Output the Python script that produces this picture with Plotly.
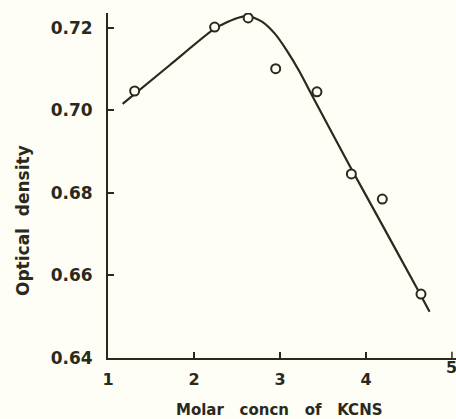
import plotly.graph_objects as go

# Measured points (open circles)
conc = [1.31, 2.24, 2.63, 2.95, 3.43, 3.83, 4.19, 4.64]
od = [0.7047, 0.7202, 0.7224, 0.7101, 0.7045, 0.6846, 0.6785, 0.6555]

# Hand-drawn smooth curve through the data
curve_x = [1.17, 1.72, 2.24, 2.48, 2.63, 2.79, 2.94, 3.08, 3.23, 3.35, 3.81, 4.13, 4.59, 4.74]
curve_y = [0.7016, 0.7110, 0.7198, 0.7222, 0.7229, 0.7215, 0.7186, 0.7145, 0.7093, 0.7045, 0.6866, 0.6745, 0.6570, 0.6512]

x_ticks = [1, 2, 3, 4, 5]
y_ticks = [0.64, 0.66, 0.68, 0.70, 0.72]

ink = "#2a2a1c"
bg = "#fefef6"
font_family = "DejaVu Sans"

fig = go.Figure()
fig.add_trace(go.Scatter(
    x=curve_x, y=curve_y, mode="lines",
    line=dict(color=ink, width=2.2, shape="spline", smoothing=0.6),
    showlegend=False, hoverinfo="skip"))
fig.add_trace(go.Scatter(
    x=conc, y=od, mode="markers",
    marker=dict(symbol="circle", size=9, color=bg, line=dict(color=ink, width=2)),
    showlegend=False))

fig.update_layout(
    width=456, height=419,
    margin=dict(l=108, r=0, t=13, b=61),
    paper_bgcolor=bg, plot_bgcolor=bg,
    font=dict(family=font_family, color=ink, size=16),
    xaxis=dict(
        range=[1, 5.047], tickvals=x_ticks[:-1], ticktext=[str(v) for v in x_ticks[:-1]],
        showgrid=False, zeroline=False, showline=True, linecolor=ink, linewidth=2,
        ticks="inside", ticklen=6, tickwidth=1.5, tickcolor=ink,
        ticklabelstandoff=6,
        tickfont=dict(family=font_family, size=16, color=ink, weight="bold"),
    ),
    yaxis=dict(
        range=[0.64, 0.7236], tickvals=y_ticks, ticktext=["%.2f" % v for v in y_ticks],
        showgrid=False, zeroline=False, showline=True, linecolor=ink, linewidth=2,
        ticks="inside", ticklen=6, tickwidth=1.5, tickcolor=ink,
        ticklabelstandoff=10,
        tickfont=dict(family=font_family, size=17, color=ink, weight="bold"),
    ),
)

# last x tick (5) sits at the right edge; draw its label and tick mark explicitly
fig.add_shape(type="line", xref="x", yref="paper", x0=x_ticks[-1], x1=x_ticks[-1],
              y0=0, y1=0.018, line=dict(color=ink, width=1.5))
fig.add_annotation(x=x_ticks[-1], xref="x", y=0, yref="paper", yshift=-21,
                   text=str(x_ticks[-1]), showarrow=False,
                   font=dict(family=font_family, size=16, color=ink, weight="bold"))

# axis titles
fig.add_annotation(x=(279 - 108) / 348, xref="paper", xanchor="center",
                   y=0, yref="paper", yanchor="middle", yshift=-52,
                   text="Molar   concn   of   KCNS", showarrow=False,
                   font=dict(family=font_family, size=15, color=ink, weight="bold"))
fig.add_annotation(x=0, xref="paper", xanchor="center", xshift=-85,
                   y=(358 - 221) / 345, yref="paper", yanchor="middle",
                   text="Optical  density", textangle=-90, showarrow=False,
                   font=dict(family=font_family, size=17, color=ink, weight="bold"))

fig.write_html("out.html")
